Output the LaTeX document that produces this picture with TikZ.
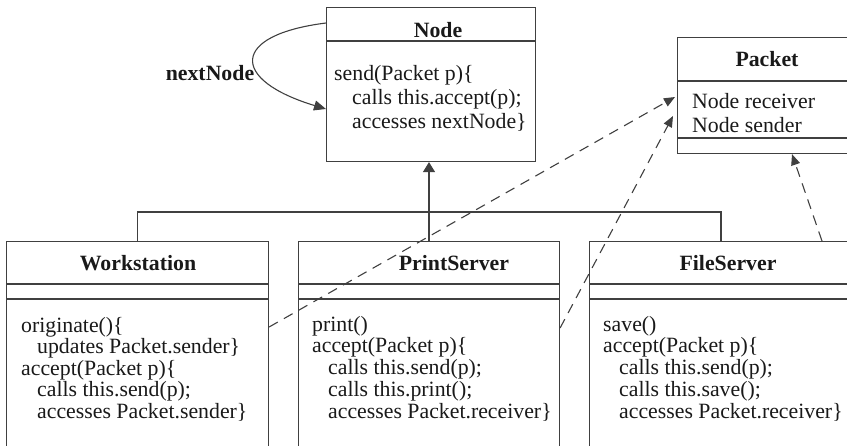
\documentclass[tikz,border=0pt]{standalone}
\usepackage{fontspec}
\setmainfont{Liberation Serif}
\usetikzlibrary{arrows.meta}
\definecolor{linec}{gray}{0.25}
\definecolor{txtc}{gray}{0.1}
\newcommand{\ind}{\hspace*{16pt}}
\begin{document}
\begin{tikzpicture}[x=1pt,y=-1pt,
  box/.style={draw=linec, line width=1.1pt, rectangle, inner sep=0pt, anchor=north west},
  conn/.style={draw=linec, line width=1.1pt},
  dep/.style={draw=linec, line width=1.1pt, dash pattern=on 10pt off 7pt, -{Triangle[length=11pt,width=9pt]}},
  title/.style={inner sep=0pt, anchor=base, text=txtc, font=\fontsize{21.8}{21.8}\selectfont\bfseries},
  txt/.style={inner sep=0pt, anchor=base west, text=txtc, font=\fontsize{21.8}{21.8}\selectfont}]
\useasboundingbox (0,0) rectangle (847,445);
\clip (0,0) rectangle (847,445);
% boxes
\node[box, minimum width=209pt, minimum height=154pt] (nd) at (326,7) {};
\node[box, minimum width=180pt, minimum height=116pt] (pk) at (677,37) {};
\node[box, minimum width=262pt, minimum height=220pt] (ws) at (6,241) {};
\node[box, minimum width=261pt, minimum height=220pt] (ps) at (298,241) {};
\node[box, minimum width=275pt, minimum height=220pt] (fs) at (589,241) {};
% dividers
\draw[conn] (nd.west |- 0,41) -- (nd.east |- 0,41);
\draw[conn] (pk.west |- 0,81) -- (pk.east |- 0,81);
\draw[conn] (pk.west |- 0,138) -- (pk.east |- 0,138);
\foreach \b in {ws,ps,fs}{
  \draw[conn] (\b.west |- 0,284) -- (\b.east |- 0,284);
  \draw[conn] (\b.west |- 0,299) -- (\b.east |- 0,299);
}
% titles
\node[title] (ndt) at (438,37) {Node};
\node[title] (pkt) at (767,66) {Packet};
\node[title] (wst) at (138,270) {Workstation};
\node[title] (pst) at (454,270) {PrintServer};
\node[title] (fst) at (728,270) {FileServer};
% contents
\node[txt] (ndops) at (334,80) {\vtop{\baselineskip=24pt
  \hbox{send(Packet p)\{}
  \hbox{\hspace*{18pt}calls this.accept(p);}
  \hbox{\hspace*{18pt}accesses nextNode\}}}};
\node[txt] (pkatt) at (692,108) {\vtop{\baselineskip=24.5pt
  \hbox{Node receiver}
  \hbox{Node sender}}};
\node[txt] (wsops) at (21,332) {\vtop{\baselineskip=21.5pt
  \hbox{originate()\{}
  \hbox{\ind updates Packet.sender\}}
  \hbox{accept(Packet p)\{}
  \hbox{\ind calls this.send(p);}
  \hbox{\ind accesses Packet.sender\}}}};
\node[txt] (psops) at (312,331) {\vtop{\baselineskip=21.8pt
  \hbox{print()}
  \hbox{accept(Packet p)\{}
  \hbox{\ind calls this.send(p);}
  \hbox{\ind calls this.print();}
  \hbox{\ind accesses Packet.receiver\}}}};
\node[txt] (fsops) at (603,331) {\vtop{\baselineskip=21.8pt
  \hbox{save()}
  \hbox{accept(Packet p)\{}
  \hbox{\ind calls this.send(p);}
  \hbox{\ind calls this.save();}
  \hbox{\ind accesses Packet.receiver\}}}};
% self association
\node[title] (nnl) at (210,80) {nextNode};
\draw[conn, -{Triangle[length=12pt,width=10pt]}] (nd.west |- 0,23) .. controls (230,35) and (230,80) .. (nd.west |- 0,109);
% inheritance
\coordinate (j3) at (721,212);
\draw[conn] (ws.north) |- (j3) -- (fs.north -| j3);
\draw[conn, -{Triangle[length=10pt,width=12pt]}] (ps.north -| 429,0) -- (nd.south -| 429,0);
% dependencies
\draw[dep] (ws.east |- 0,327) -- ([xshift=-2pt]pk.west |- 0,97);
\draw[dep] (ps.east |- 0,328) -- ([xshift=-4pt]pk.west |- 0,116);
\draw[dep] (fs.north -| 822,0) -- (pk.south -| 792,0);
\end{tikzpicture}
\end{document}
